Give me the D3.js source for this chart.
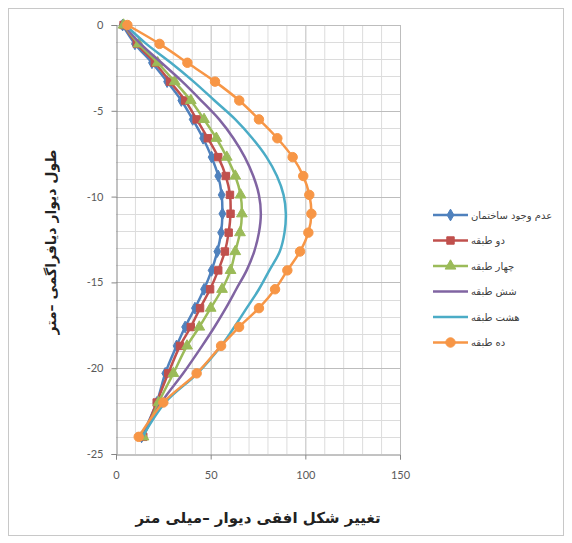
<!DOCTYPE html>
<html><head><meta charset="utf-8">
<script src="https://cdn.jsdelivr.net/npm/d3@7"></script>
<style>body{margin:0;background:#fff}svg{display:block}</style>
</head><body><svg id="c" width="572" height="543"></svg>
<script>
const depths = [0,-1.1,-2.2,-3.3,-4.4,-5.5,-6.6,-7.7,-8.8,-9.9,-11,-12.1,-13.2,-14.3,-15.4,-16.5,-17.6,-18.7,-20.3,-22,-24];
const seriesNames = ["عدم وجود ساختمان","دو طبقه","چهار طبقه","شش طبقه","هشت طبقه","ده طبقه"];
const noBuilding = [3.5,10,19,27,34.5,40.5,46,50.5,54,55.8,56.2,55.5,53.5,50.5,46.5,41.7,36.5,32,26,21.5,13.5];
const twoStory   = [4,11,20.5,28.5,36.5,42.6,48.5,54,58,60.2,60.5,59.5,57.5,54,49.7,44.4,39.5,33.8,27.6,21.5,14.4];
const fourStory  = [4,12,22,31,39.5,46.5,53,58.5,63,65.8,66.5,65.5,63,60.5,56,50,44,37.5,30.3,22.5,14.5];
const sixStory   = [4,13,24,35,45,54.5,62,68,72.5,75.5,76.5,75.5,73,69,63.5,58,52,45.5,35.5,24,14];
const eightStory = [5,16,29,41,52,63,72,79.5,85,88.5,89.7,89,86.5,81,75.5,69,62.5,55.5,43,26,14];
const tenStory   = [6,23,37.7,52.3,65.1,75.5,85.2,93.3,98.9,102.1,103.2,101.6,97.2,90.5,84,75.5,65,55.5,42.6,25,12];
const xTicks = [0,50,100,150];
const yTicks = [0,-5,-10,-15,-20,-25];
const xTitle = "تغییر شکل افقی دیوار –میلی متر";
const yTitle = "طول دیوار دیافراگمی –متر";

const allSeries = [noBuilding,twoStory,fourStory,sixStory,eightStory,tenStory];
const colors = ["#4F81BD","#C0504D","#9BBB59","#8064A2","#4BACC6","#F79646"];
const markers = ["diamond","square","triangle",null,null,"circle"];

const svg = d3.select("#c");
svg.append("rect").attr("x",8.5).attr("y",8.5).attr("width",555).attr("height",527)
  .attr("fill","#fff").attr("stroke","#c8c8c8");

const x = d3.scaleLinear().domain([0,150]).range([116,400]);
const y = d3.scaleLinear().domain([-25,0]).range([454,25]);

// grid
const g = svg.append("g");
g.selectAll("line.vx").data(d3.range(10,151,10)).join("line")
  .attr("x1",d=>x(d)+0.5).attr("x2",d=>x(d)+0.5).attr("y1",y(0)).attr("y2",y(-25))
  .attr("stroke",d=>d%50===0?"#bdbdbd":"#dcdcdc").attr("stroke-width",1);
g.selectAll("line.hy").data(d3.range(-24,1,1)).join("line")
  .attr("y1",d=>Math.round(y(d))+0.5).attr("y2",d=>Math.round(y(d))+0.5).attr("x1",x(0)).attr("x2",x(150))
  .attr("stroke",d=>d%5===0?"#bdbdbd":"#dcdcdc").attr("stroke-width",1);

// axes
const xa = svg.append("g").attr("transform",`translate(0,${Math.round(y(-25))+0.5})`)
  .call(d3.axisBottom(x).tickValues(xTicks).tickSize(5).tickPadding(12).tickFormat(d=>String(d)));
const ya = svg.append("g").attr("transform",`translate(${Math.round(x(0))+0.5},0)`)
  .call(d3.axisLeft(y).tickValues(yTicks).tickSize(5).tickPadding(8).tickFormat(d=>String(d)));
[xa,ya].forEach(a=>{
  a.select(".domain").attr("stroke","#868686");
  a.selectAll(".tick line").attr("stroke","#868686");
  a.selectAll("text").attr("fill","#595959").style("font-family","Lato, 'Liberation Sans', sans-serif").style("font-size","11px");
});

// series
const line = d3.line().x(d=>x(d[0])).y(d=>y(d[1])).curve(d3.curveCatmullRom.alpha(0.5));
const sym = {
  diamond: d3.symbol().type(d3.symbolDiamond).size(40),
  square: d3.symbol().type(d3.symbolSquare).size(55),
  triangle: d3.symbol().type(d3.symbolTriangle).size(50),
  circle: d3.symbol().type(d3.symbolCircle).size(70)
};
allSeries.forEach((vals,i)=>{
  const pts = vals.map((v,j)=>[v,depths[j]]);
  svg.append("path").attr("d",line(pts)).attr("fill","none")
    .attr("stroke",colors[i]).attr("stroke-width",2.5).attr("stroke-linejoin","round");
  if(markers[i]){
    svg.append("g").selectAll("path").data(pts).join("path")
      .attr("transform",d=>`translate(${x(d[0])},${y(d[1])})`)
      .attr("d",sym[markers[i]]()).attr("fill",colors[i]).attr("stroke",colors[i]).attr("stroke-width",1);
  }
});

// legend
const lg = svg.append("g");
seriesNames.forEach((n,i)=>{
  const ly = 215 + i*25.5;
  lg.append("line").attr("x1",433).attr("x2",468).attr("y1",ly).attr("y2",ly)
    .attr("stroke",colors[i]).attr("stroke-width",2.5);
  if(markers[i]) lg.append("path").attr("transform",`translate(450.5,${ly})`)
    .attr("d",sym[markers[i]]()).attr("fill",colors[i]).attr("stroke",colors[i]);
  lg.append("text").attr("x",471).attr("y",ly).attr("dy","0.35em")
    .attr("text-anchor","start")
    .attr("fill","#404040").style("font-family","'DejaVu Sans', sans-serif").style("font-size","10px")
    .text(n);
});

// titles
svg.append("text").attr("x",258).attr("y",523).attr("text-anchor","middle")
  .style("font-family","'DejaVu Sans', sans-serif").style("font-size","15px").style("font-weight","bold")
  .attr("fill","#222").text(xTitle);
svg.append("text").attr("transform","translate(56,242) rotate(-90)").attr("text-anchor","middle")
  .style("font-family","'DejaVu Sans', sans-serif").style("font-size","14px").style("font-weight","bold")
  .attr("fill","#222").text(yTitle);
</script></body></html>
